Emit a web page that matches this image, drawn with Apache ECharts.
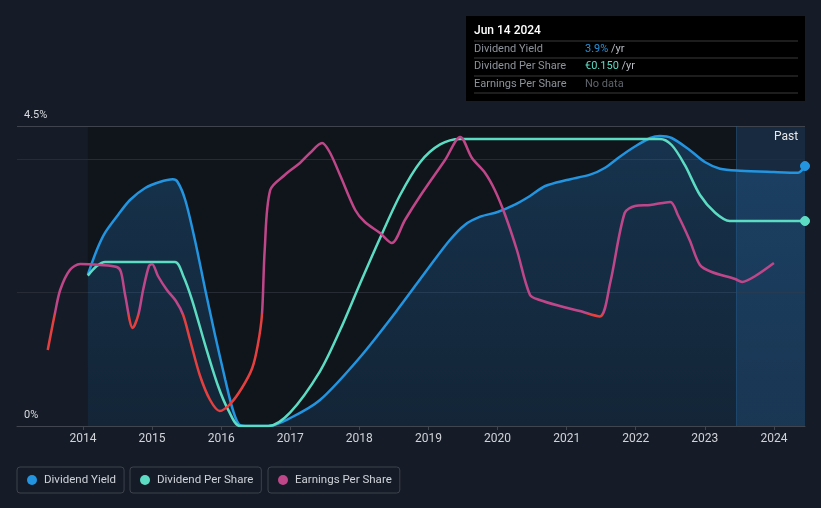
<!DOCTYPE html>
<html>
<head>
<meta charset="utf-8">
<script src="https://cdn.jsdelivr.net/npm/echarts@6/dist/echarts.min.js"></script>
<style>
html,body{margin:0;padding:0;background:#161c27;}
#c{width:821px;height:508px;}
</style>
</head>
<body>
<div id="c"></div>
<script>
// ---- data (x = decimal year) ----
const yearTicks = [2014,2015,2016,2017,2018,2019,2020,2021,2022,2023,2024];
const yTickLabels = ['0%','4.5%'];

const yieldX = [2014.07,2014.20,2014.32,2014.51,2014.68,2014.90,2015.11,2015.30,2015.37,2015.48,2015.62,2015.77,2015.91,2016.06,2016.17,2016.27,2016.39,2016.68,2017.0,2017.43,2018.0,2018.52,2019.0,2019.31,2019.53,2019.75,2020.0,2020.25,2020.47,2020.69,2021.0,2021.34,2021.55,2021.77,2022.0,2022.21,2022.35,2022.52,2022.78,2023.0,2023.22,2023.51,2024.0,2024.35,2024.45];
const yieldY = [2.27,2.64,2.9,3.17,3.39,3.57,3.66,3.7,3.66,3.39,2.79,2.04,1.37,0.69,0.24,0.015,0,0,0.12,0.39,1.02,1.7,2.37,2.79,3.02,3.14,3.21,3.32,3.45,3.6,3.69,3.77,3.87,4.04,4.2,4.32,4.35,4.32,4.14,3.96,3.86,3.83,3.81,3.8,3.9];

const dpsX = [2014.07,2014.20,2014.32,2015.33,2015.45,2015.58,2015.77,2015.95,2016.10,2016.27,2016.68,2017.0,2017.43,2017.72,2018.0,2018.30,2018.59,2018.88,2019.17,2019.46,2022.35,2022.52,2022.71,2022.93,2023.15,2023.36,2024.45];
const dpsY = [0.110,0.117,0.120,0.120,0.110,0.092,0.059,0.030,0.012,0,0,0.010,0.040,0.070,0.103,0.1375,0.169,0.193,0.206,0.210,0.210,0.2056,0.191,0.169,0.156,0.150,0.150];

const epsX = [2013.49,2013.595,2013.67,2013.81,2013.96,2014.25,2014.49,2014.55,2014.61,2014.72,2014.80,2014.87,2014.955,2015.0,2015.085,2015.215,2015.345,2015.45,2015.55,2015.69,2015.84,2015.98,2016.13,2016.30,2016.45,2016.53,2016.59,2016.63,2016.71,2016.92,2017.14,2017.285,2017.46,2017.57,2017.72,2017.94,2018.08,2018.30,2018.47,2018.66,2018.88,2019.24,2019.46,2019.63,2019.82,2019.96,2020.11,2020.28,2020.47,2020.61,2020.90,2021.19,2021.48,2021.63,2021.84,2021.99,2022.21,2022.50,2022.61,2022.78,2022.93,2023.10,2023.44,2023.54,2023.73,2024.0];
const epsY = [-0.18,0.005,0.12,0.22,0.25,0.245,0.235,0.21,0.095,-0.07,-0.005,0.12,0.24,0.25,0.19,0.12,0.065,-0.005,-0.13,-0.305,-0.43,-0.485,-0.45,-0.37,-0.27,-0.155,-0.005,0.32,0.62,0.695,0.755,0.805,0.855,0.81,0.695,0.52,0.46,0.405,0.355,0.47,0.59,0.77,0.885,0.78,0.705,0.62,0.495,0.32,0.095,0.07,0.04,0.015,-0.012,0.155,0.505,0.54,0.545,0.56,0.495,0.37,0.245,0.21,0.175,0.16,0.19,0.255];

const dataStart = 2014.07, pastStart = 2023.45, xMin = 2013.045, xMax = 2024.45;

const C_YIELD = '#2394df', C_DPS = '#5ddcc4', C_EPS = '#c0468a', C_NEG = '#e5403f';
const FONT = 'Roboto, "Noto Sans", sans-serif';
const W = 821, H = 508;

function pairs(xs, ys, lastColor){
  return xs.map((x,i)=>{
    if (lastColor && i === xs.length-1) {
      return {value:[x,ys[i]], symbol:'circle', symbolSize:9, itemStyle:{color:lastColor, borderColor:lastColor, borderWidth:1}};
    }
    return [x, ys[i]];
  });
}

const chart = echarts.init(document.getElementById('c'));
const legendCommon = {
  icon:'circle', itemWidth:10, itemHeight:10, itemGap:0,
  borderColor:'#3d424c', borderWidth:1, borderRadius:3,
  padding:[7,8,7,10], selectedMode:false,
  textStyle:{color:'#cfd3d9', fontSize:11.5, fontFamily:FONT, padding:[0,0,0,2]}
};

chart.setOption({
  backgroundColor:'#161c27',
  animation:false,
  grid:{left:17, right:16, top:126, bottom:82},
  xAxis:{
    type:'value', min:xMin, max:xMax,
    splitLine:{show:false},
    axisLine:{show:true, lineStyle:{color:'#40454e', width:1}},
    axisTick:{show:true, customValues:yearTicks, length:4, lineStyle:{color:'#40454e'}},
    axisLabel:{customValues:yearTicks, color:'#d0d3d8', fontSize:12, fontFamily:FONT, margin:7, formatter:v=>String(Math.round(v))}
  },
  yAxis:[
    {type:'value', min:0, max:4.5, interval:4.5, splitLine:{show:false}, axisLine:{show:false}, axisTick:{show:false},
     axisLabel:{inside:true, margin:7, verticalAlign:'bottom', padding:[0,0,5,0], color:'#d8dbe0', fontSize:11, fontFamily:FONT,
       formatter:v=> v===0 ? yTickLabels[0] : yTickLabels[1]}},
    {type:'value', min:0, max:0.2195, show:false},
    {type:'value', min:-0.56, max:0.94, show:false}
  ],
  legend:[
    Object.assign({}, legendCommon, {left:17, top:467, data:[{name:'Dividend Yield', itemStyle:{color:C_YIELD}}]}),
    Object.assign({}, legendCommon, {left:130, top:467, data:[{name:'Dividend Per Share', itemStyle:{color:C_DPS}}]}),
    Object.assign({}, legendCommon, {left:268, top:467, data:[{name:'Earnings Per Share', itemStyle:{color:C_EPS}}]})
  ],
  series:[
    {
      name:'Dividend Yield', type:'line', yAxisIndex:0, z:3,
      data:pairs(yieldX, yieldY, C_YIELD),
      smooth:0.3, showSymbol:true, symbolSize:0,
      lineStyle:{color:C_YIELD, width:2.5}, itemStyle:{color:C_YIELD},
      areaStyle:{origin:'start', color:new echarts.graphic.LinearGradient(0,0,0,1,[
        {offset:0, color:'rgba(32,100,158,0.55)'},{offset:1, color:'rgba(32,100,158,0.3)'}])},
      markArea:{silent:true, z:0, data:[
        [{xAxis:dataStart, itemStyle:{color:'#10141b'}},{xAxis:pastStart}],
        [{xAxis:pastStart, itemStyle:{color:'rgba(30,95,150,0.22)'}},{xAxis:xMax}]
      ]},
      markLine:{silent:true, z:1, symbol:'none', label:{show:false}, data:[
        {yAxis:2, lineStyle:{color:'#262b34', width:1, type:'solid'}},
        {yAxis:4, lineStyle:{color:'#262b34', width:1, type:'solid'}},
        {yAxis:4.5, lineStyle:{color:'#3e434c', width:1, type:'solid'}},
        {xAxis:pastStart, lineStyle:{color:'rgba(40,100,150,0.35)', width:1, type:'solid'}}
      ]}
    },
    {
      name:'Dividend Per Share', type:'line', yAxisIndex:1, z:4,
      data:pairs(dpsX, dpsY, C_DPS),
      smooth:0.3, showSymbol:true, symbolSize:0,
      lineStyle:{color:C_DPS, width:2.5}, itemStyle:{color:C_DPS}
    },
    {
      name:'Earnings Per Share', type:'line', yAxisIndex:2, z:5,
      data:pairs(epsX, epsY, null),
      smooth:0.3, showSymbol:false,
      lineStyle:{width:2.5, color:C_EPS}, itemStyle:{color:C_EPS}
    }
  ],
  graphic:[
    {type:'text', left:774, top:131, z:10, style:{text:'Past', fill:'#e8e8ea', font:'12px '+FONT}},
    {type:'group', left:466, top:16, z:20, children:[
      {type:'rect', shape:{x:0,y:0,width:339,height:85}, style:{fill:'#000'}},
      {type:'text', x:8, y:15, style:{text:'Jun 14 2024', fill:'#ffffff', font:'500 12px '+FONT, verticalAlign:'middle'}},
      {type:'line', shape:{x1:8,y1:25,x2:332,y2:25}, style:{stroke:'#3a3a3a', lineWidth:1}},
      {type:'line', shape:{x1:8,y1:42,x2:332,y2:42}, style:{stroke:'#3a3a3a', lineWidth:1}},
      {type:'line', shape:{x1:8,y1:60,x2:332,y2:60}, style:{stroke:'#3a3a3a', lineWidth:1}},
      {type:'line', shape:{x1:8,y1:77,x2:332,y2:77}, style:{stroke:'#3a3a3a', lineWidth:1}},
      {type:'text', x:8, y:33, style:{text:'Dividend Yield', fill:'#8d939b', font:'11px '+FONT, verticalAlign:'middle'}},
      {type:'text', x:8, y:50, style:{text:'Dividend Per Share', fill:'#8d939b', font:'11px '+FONT, verticalAlign:'middle'}},
      {type:'text', x:8, y:68, style:{text:'Earnings Per Share', fill:'#8d939b', font:'11px '+FONT, verticalAlign:'middle'}},
      {type:'text', x:119, y:33, style:{text:'{a|3.9%} {b|/yr}', verticalAlign:'middle', font:'11px '+FONT,
        rich:{a:{fill:C_YIELD, font:'11px '+FONT}, b:{fill:'#b8bcc2', font:'11px '+FONT}}}},
      {type:'text', x:119, y:50, style:{text:'{a|€0.150} {b|/yr}', verticalAlign:'middle', font:'11px '+FONT,
        rich:{a:{fill:C_DPS, font:'11px '+FONT}, b:{fill:'#b8bcc2', font:'11px '+FONT}}}},
      {type:'text', x:119, y:68, style:{text:'No data', fill:'#5f646c', font:'11px '+FONT, verticalAlign:'middle'}}
    ]}
  ]
});

// EPS colour split exactly at zero on the EPS axis (global gradient)
const zeroPx = chart.convertToPixel({yAxisIndex:2}, 0);
const zOff = Math.min(1, Math.max(0, zeroPx / H));
chart.setOption({series:[{}, {}, {lineStyle:{color:new echarts.graphic.LinearGradient(0,0,0,H,[
  {offset:0, color:C_EPS},{offset:zOff, color:C_EPS},
  {offset:zOff, color:C_NEG},{offset:1, color:C_NEG}], true)}}]});
</script>
</body>
</html>
